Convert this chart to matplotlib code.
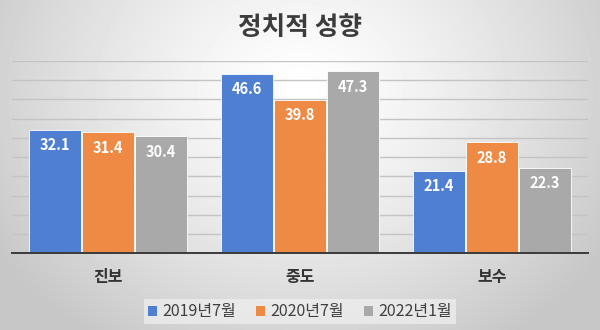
import numpy as np
import matplotlib
matplotlib.use("Agg")
import matplotlib.pyplot as plt
from matplotlib.patches import Patch

plt.rcParams['font.family'] = ['Noto Sans CJK KR', 'DejaVu Sans']

title = "정치적 성향"
categories = ["진보", "중도", "보수"]
series_names = ["2019년7월", "2020년7월", "2022년1월"]
values_2019 = [32.1, 46.6, 21.4]
values_2020 = [31.4, 39.8, 28.8]
values_2022 = [30.4, 47.3, 22.3]
series_values = [values_2019, values_2020, values_2022]
colors = ["#4f7fd0", "#ef8a44", "#a9a9a9"]

fig = plt.figure(figsize=(6.0, 3.3), dpi=100)

# soft radial background
bg = fig.add_axes([0, 0, 1, 1], zorder=-10)
yy, xx = np.mgrid[0:330, 0:600]
r = np.sqrt(((xx - 300) / 360.0) ** 2 + ((yy - 90) / 300.0) ** 2)
shade = np.clip(1.0 - 0.22 * r ** 1.3, 0.78, 1.0)
bg.imshow(shade, cmap="gray", vmin=0, vmax=1, aspect="auto",
          extent=[0, 1, 0, 1], origin="upper")
bg.set_axis_off()

ax = fig.add_axes([0.02, 0.2324, 0.96, 0.5830])
ax.set_facecolor("none")

x = np.arange(len(categories))
width = 0.271
step = 0.276
for i, (name, vals, c) in enumerate(zip(series_names, series_values, colors)):
    pos = x + (i - 1) * step
    bars = ax.bar(pos, vals, width=width, color=c, edgecolor="white",
                  linewidth=0.6, label=name, zorder=3)
    for b, v in zip(bars, vals):
        ax.annotate(f"{v:.1f}", (b.get_x() + b.get_width() / 2, v),
                    xytext=(0, -11), textcoords="offset points",
                    ha="center", va="center", color="white",
                    fontsize=10.5, fontweight="bold", zorder=4)

ax.set_xlim(-0.5, len(categories) - 0.5)
ax.set_ylim(0, 50)
ax.set_yticks(np.arange(0, 51, 5))
ax.yaxis.grid(True, color="#c4c4c4", linewidth=1.0, zorder=0)
ax.tick_params(axis="y", left=False, labelleft=False)
ax.set_xticks(x)
ax.set_xticklabels(categories, fontsize=11.5, fontweight="bold", color="#333333")
ax.tick_params(axis="x", length=0, pad=11)
for s in ["top", "right", "left"]:
    ax.spines[s].set_visible(False)
ax.spines["bottom"].set_color("#3a3a3a")
ax.spines["bottom"].set_linewidth(1.4)
ax.spines["bottom"].set_zorder(5)

fig.text(0.5, 0.918, title, ha="center", va="center", fontsize=18.5,
         fontweight="bold", color="#3c3c3c")

handles = [Patch(facecolor=c, edgecolor="none", label=n)
           for n, c in zip(series_names, colors)]
leg = fig.legend(handles=handles, loc="center", bbox_to_anchor=(0.5, 0.055),
                 ncol=3, frameon=True, fontsize=11.5, handlelength=0.55,
                 handleheight=0.55, handletextpad=0.3, columnspacing=1.3,
                 borderpad=0.25)
leg.get_frame().set_facecolor("#f0f0f0")
leg.get_frame().set_alpha(0.7)
leg.get_frame().set_edgecolor("none")
leg.get_frame().set_boxstyle("square", pad=0)
for t in leg.get_texts():
    t.set_color("#404040")

fig.savefig("out.png", dpi=100)
